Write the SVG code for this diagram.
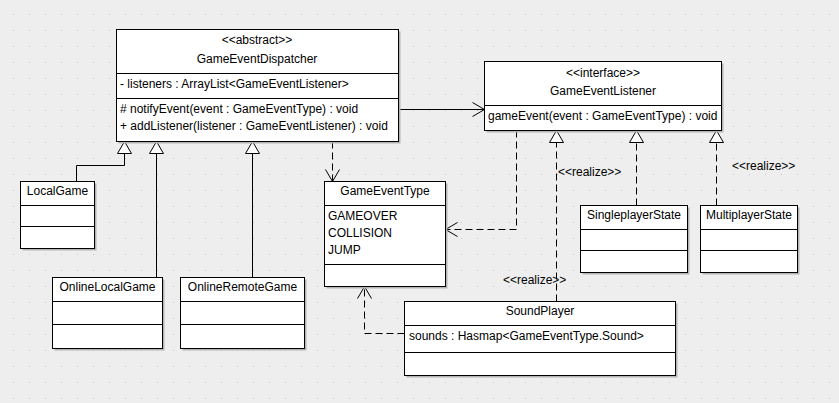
<svg xmlns="http://www.w3.org/2000/svg" width="839" height="403" viewBox="0 0 839 403">
  <style>
    text { font-family: "Liberation Sans", Arial, sans-serif; font-size: 12px; fill: #000; }
    .c { text-anchor: middle; }
    .box { fill: #fff; stroke: #000; stroke-width: 1; }
    .sh { fill: #b4b4b4; }
    .div { stroke: #000; stroke-width: 1; }
    .solid { fill: none; stroke: #000; stroke-width: 1; }
    .dash { fill: none; stroke: #000; stroke-width: 1; stroke-dasharray: 7 4; }
    .gen { marker-end: url(#tri); }
    .arr { marker-end: url(#open); }
  </style>
  <defs>
    <pattern id="grid" x="13" y="14" width="16" height="16" patternUnits="userSpaceOnUse">
      <rect x="0" y="0" width="1" height="1" fill="#c4c4c4"/>
    </pattern>
    <!-- hollow triangle for generalization / realization -->
    <marker id="tri" markerUnits="userSpaceOnUse" markerWidth="16" markerHeight="16" refX="12" refY="7" orient="auto" overflow="visible">
      <path d="M0,0 L12,7 L0,14 Z" fill="#fff" stroke="#000" stroke-width="1"/>
    </marker>
    <!-- open arrowhead for association / dependency -->
    <marker id="open" markerUnits="userSpaceOnUse" markerWidth="16" markerHeight="16" refX="12" refY="7" orient="auto" overflow="visible">
      <path d="M0,0 L12,7 L0,14" fill="none" stroke="#000" stroke-width="1"/>
    </marker>
  </defs>

  <rect width="839" height="403" fill="#eeeeee"/>
  <rect width="839" height="403" fill="url(#grid)"/>

  <g id="connectors">
    <path class="solid gen" d="M76.5,181.5 V165.5 H124.5 V141.5"/>
    <path class="solid gen" d="M156.5,277.5 V141.5"/>
    <path class="solid gen" d="M252.5,277.5 V141.5"/>
    <path class="solid arr" d="M398.5,109.5 H484.5"/>
    <path class="dash arr" d="M332.5,141.5 V181.5"/>
    <path class="dash arr" d="M516.5,130.5 V229.5 H445.5"/>
    <path class="dash gen" d="M556.5,301.5 V130.5"/>
    <path class="dash gen" d="M636.5,205.5 V130.5"/>
    <path class="dash gen" d="M716.5,205.5 V130.5"/>
    <path class="dash arr" d="M404.5,333.5 H364.5 V286.5"/>
    <text x="558" y="176">&lt;&lt;realize&gt;&gt;</text>
    <text x="732" y="170">&lt;&lt;realize&gt;&gt;</text>
    <text x="503" y="284">&lt;&lt;realize&gt;&gt;</text>
  </g>

  <g id="GameEventDispatcher">
    <rect class="sh" x="118.5" y="31.5" width="282" height="112"/>
    <rect class="box" x="116.5" y="29.5" width="282" height="112"/>
    <line class="div" x1="116.5" y1="73.5" x2="398.5" y2="73.5"/>
    <line class="div" x1="116.5" y1="98.5" x2="398.5" y2="98.5"/>
    <text class="c" x="257" y="44">&lt;&lt;abstract&gt;&gt;</text>
    <text class="c" x="257" y="63">GameEventDispatcher</text>
    <text x="120" y="88">- listeners : ArrayList&lt;GameEventListener&gt;</text>
    <text x="120" y="113"># notifyEvent(event : GameEventType) : void</text>
    <text x="120" y="130">+ addListener(listener : GameEventListener) : void</text>
  </g>

  <g id="GameEventListener">
    <rect class="sh" x="486.5" y="63.5" width="237" height="69"/>
    <rect class="box" x="484.5" y="61.5" width="237" height="69"/>
    <line class="div" x1="484.5" y1="105.5" x2="721.5" y2="105.5"/>
    <text class="c" x="603" y="77">&lt;&lt;interface&gt;&gt;</text>
    <text class="c" x="603" y="95">GameEventListener</text>
    <text x="488" y="120">gameEvent(event : GameEventType) : void</text>
  </g>

  <g id="LocalGame">
    <rect class="sh" x="22.5" y="183.5" width="74" height="67"/>
    <rect class="box" x="20.5" y="181.5" width="74" height="67"/>
    <line class="div" x1="20.5" y1="205.5" x2="94.5" y2="205.5"/>
    <line class="div" x1="20.5" y1="226.5" x2="94.5" y2="226.5"/>
    <text class="c" x="57.5" y="195">LocalGame</text>
  </g>

  <g id="OnlineLocalGame">
    <rect class="sh" x="54.5" y="279.5" width="110" height="71"/>
    <rect class="box" x="52.5" y="277.5" width="110" height="71"/>
    <line class="div" x1="52.5" y1="301.5" x2="162.5" y2="301.5"/>
    <line class="div" x1="52.5" y1="324.5" x2="162.5" y2="324.5"/>
    <text class="c" x="107.5" y="291">OnlineLocalGame</text>
  </g>

  <g id="OnlineRemoteGame">
    <rect class="sh" x="182.5" y="279.5" width="124" height="71"/>
    <rect class="box" x="180.5" y="277.5" width="124" height="71"/>
    <line class="div" x1="180.5" y1="301.5" x2="304.5" y2="301.5"/>
    <line class="div" x1="180.5" y1="324.5" x2="304.5" y2="324.5"/>
    <text class="c" x="242.5" y="291">OnlineRemoteGame</text>
  </g>

  <g id="GameEventType">
    <rect class="sh" x="326.5" y="183.5" width="121" height="105"/>
    <rect class="box" x="324.5" y="181.5" width="121" height="105"/>
    <line class="div" x1="324.5" y1="205.5" x2="445.5" y2="205.5"/>
    <line class="div" x1="324.5" y1="264.5" x2="445.5" y2="264.5"/>
    <text class="c" x="385" y="195">GameEventType</text>
    <text x="328" y="220">GAMEOVER</text>
    <text x="328" y="237">COLLISION</text>
    <text x="328" y="254">JUMP</text>
  </g>

  <g id="SingleplayerState">
    <rect class="sh" x="582.5" y="207.5" width="107" height="67"/>
    <rect class="box" x="580.5" y="205.5" width="107" height="67"/>
    <line class="div" x1="580.5" y1="229.5" x2="687.5" y2="229.5"/>
    <line class="div" x1="580.5" y1="250.5" x2="687.5" y2="250.5"/>
    <text class="c" x="634" y="219">SingleplayerState</text>
  </g>

  <g id="MultiplayerState">
    <rect class="sh" x="702.5" y="207.5" width="97" height="67"/>
    <rect class="box" x="700.5" y="205.5" width="97" height="67"/>
    <line class="div" x1="700.5" y1="229.5" x2="797.5" y2="229.5"/>
    <line class="div" x1="700.5" y1="250.5" x2="797.5" y2="250.5"/>
    <text class="c" x="749" y="219">MultiplayerState</text>
  </g>

  <g id="SoundPlayer">
    <rect class="sh" x="406.5" y="303.5" width="271" height="74"/>
    <rect class="box" x="404.5" y="301.5" width="271" height="74"/>
    <line class="div" x1="404.5" y1="325.5" x2="675.5" y2="325.5"/>
    <line class="div" x1="404.5" y1="352.5" x2="675.5" y2="352.5"/>
    <text class="c" x="540" y="315">SoundPlayer</text>
    <text x="409" y="340">sounds : Hasmap&lt;GameEventType.Sound&gt;</text>
  </g>
</svg>
